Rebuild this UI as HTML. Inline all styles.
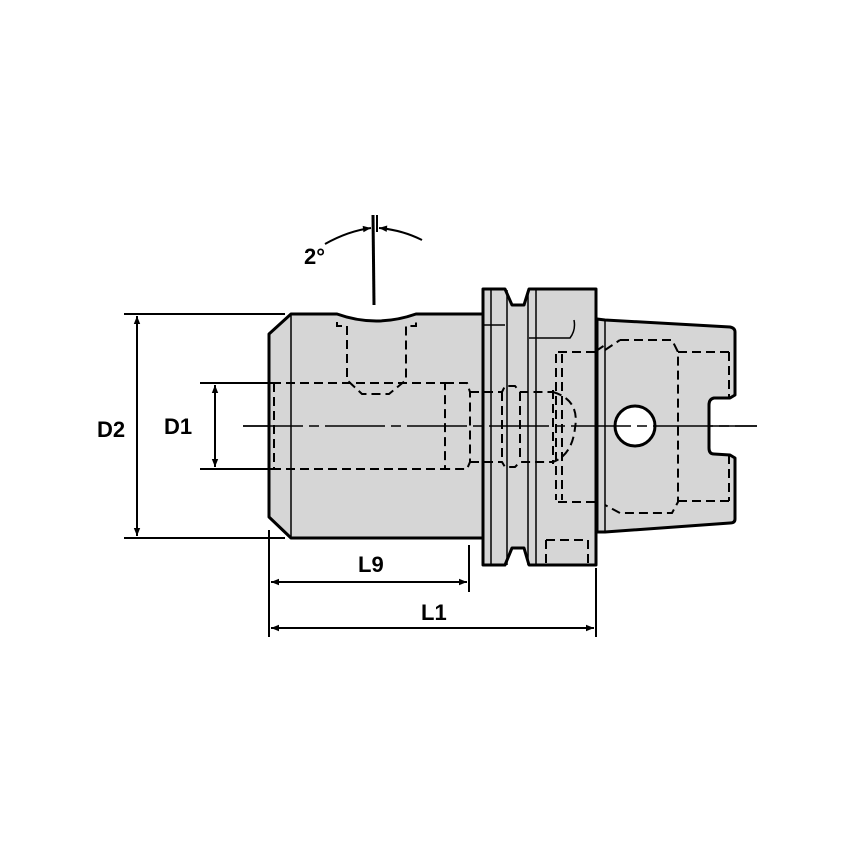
<!DOCTYPE html>
<html><head><style>body{margin:0;background:#fff}svg{display:block}text{font-family:"Liberation Sans",Arial,sans-serif;font-size:22px;font-weight:bold;fill:#000}</style></head>
<body>
<svg width="854" height="854" viewBox="0 0 854 854" xmlns="http://www.w3.org/2000/svg">
<defs>
<marker id="a" viewBox="0 0 10 10" refX="10" refY="5" markerWidth="16" markerHeight="8" orient="auto-start-reverse" markerUnits="userSpaceOnUse"><path d="M0,1 L10,5 L0,9 Z" fill="#000"/></marker>
</defs>
<g fill="#d6d6d6" stroke="#000" stroke-width="3" stroke-linejoin="round">
<path d="M597,319 L605,320 L730,327 Q735,328 735,332 L735,395 L730,398 L714,398 Q709,399 709,405 L709,448 Q709,454 714,454 L730,455 L735,458 L735,519 Q735,523 730,523 L605,532 L597,532 Z"/>
<path d="M483,289 L505,289 L512,305 L524,305 L529,289 L596,289 L596,565 L529,565 L524,548 L512,548 L505,565 L483,565 Z"/>
<path d="M291,314 L337,314 Q376,328 416,314 L483,314 L483,538 L291,538 L269,517 L269,334 Z"/>
</g>
<g fill="none" stroke="#000" stroke-width="1.5">
<line x1="291" y1="314" x2="291" y2="538"/>
<line x1="507" y1="290" x2="507" y2="565"/>
<line x1="528" y1="290" x2="528" y2="565"/>
<line x1="491" y1="290" x2="491" y2="565"/>
<line x1="536" y1="290" x2="536" y2="565"/>
<line x1="605" y1="320" x2="605" y2="532"/>
<path d="M529,338 L570,338 Q576,330 574,320 M483,325 L505,325"/>
</g>
<g fill="none" stroke="#000" stroke-width="2" stroke-dasharray="9,5">
<path d="M337,322 L337,326 L347,326 L347,380 L362,394 L389,394 L406,380 L406,326 L416,326 L416,322"/>
<path d="M272,383 L445,383 M272,469 L445,469 M274,383 L274,469"/>
<path d="M445,383 L467,383 L470,392 L470,462 L467,469 L445,469 Z"/>
<path d="M470,392 L502,392 L505,386 L515,386 L520,392 L553,392 M470,462 L502,462 L505,467 L515,467 L520,462 L553,462 M502,392 L502,462 M520,392 L520,462 M553,390 L553,464"/>
<path d="M553,392 Q580,400 575,428 Q572,455 553,462"/>
<path d="M556,354 L556,500 M562,354 L562,500 M558,352 L600,352 M558,502 L600,502 M596,351 L605,345"/>
<path d="M620,340 L672,340 L678,352 L678,502 L672,513 L620,513 L605,505 M605,350 L620,340 M678,352 L733,352 M678,501 L733,501 M729,352 L729,398 M729,455 L729,501"/>
<path d="M546,540 L588,540 L588,563 M546,540 L546,563"/>
</g>
<circle cx="635" cy="426" r="20" fill="#fff" stroke="#000" stroke-width="3"/>
<line x1="243" y1="426" x2="757" y2="426" stroke="#000" stroke-width="1.5" stroke-dasharray="60,6,10,6"/>
<line x1="243" y1="426" x2="270" y2="426" stroke="#000" stroke-width="1.5"/>
<line x1="709" y1="426" x2="757" y2="426" stroke="#000" stroke-width="1.5"/>
<g stroke="#000" stroke-width="2" fill="none">
<line x1="373" y1="215" x2="374" y2="305" stroke-width="3"/>
<line x1="377" y1="215" x2="377" y2="232"/>
<path d="M325,244 Q348,231 371,228" marker-end="url(#a)"/>
<path d="M422,240 Q402,230 379,228" marker-end="url(#a)"/>
</g>
<text x="304" y="264">2°</text>
<g stroke="#000" stroke-width="2" fill="none">
<line x1="124" y1="314" x2="285" y2="314"/>
<line x1="124" y1="538" x2="285" y2="538"/>
<line x1="137" y1="316" x2="137" y2="536" marker-start="url(#a)" marker-end="url(#a)"/>
<line x1="200" y1="383" x2="275" y2="383"/>
<line x1="200" y1="469" x2="275" y2="469"/>
<line x1="215" y1="385" x2="215" y2="467" marker-start="url(#a)" marker-end="url(#a)"/>
<line x1="269" y1="530" x2="269" y2="637"/>
<line x1="469" y1="545" x2="469" y2="592"/>
<line x1="596" y1="568" x2="596" y2="637"/>
<line x1="271" y1="582" x2="467" y2="582" marker-start="url(#a)" marker-end="url(#a)"/>
<line x1="271" y1="628" x2="594" y2="628" marker-start="url(#a)" marker-end="url(#a)"/>
</g>
<text x="97" y="437">D2</text>
<text x="164" y="434">D1</text>
<text x="358" y="572">L9</text>
<text x="421" y="620">L1</text>
</svg>
</body></html>
